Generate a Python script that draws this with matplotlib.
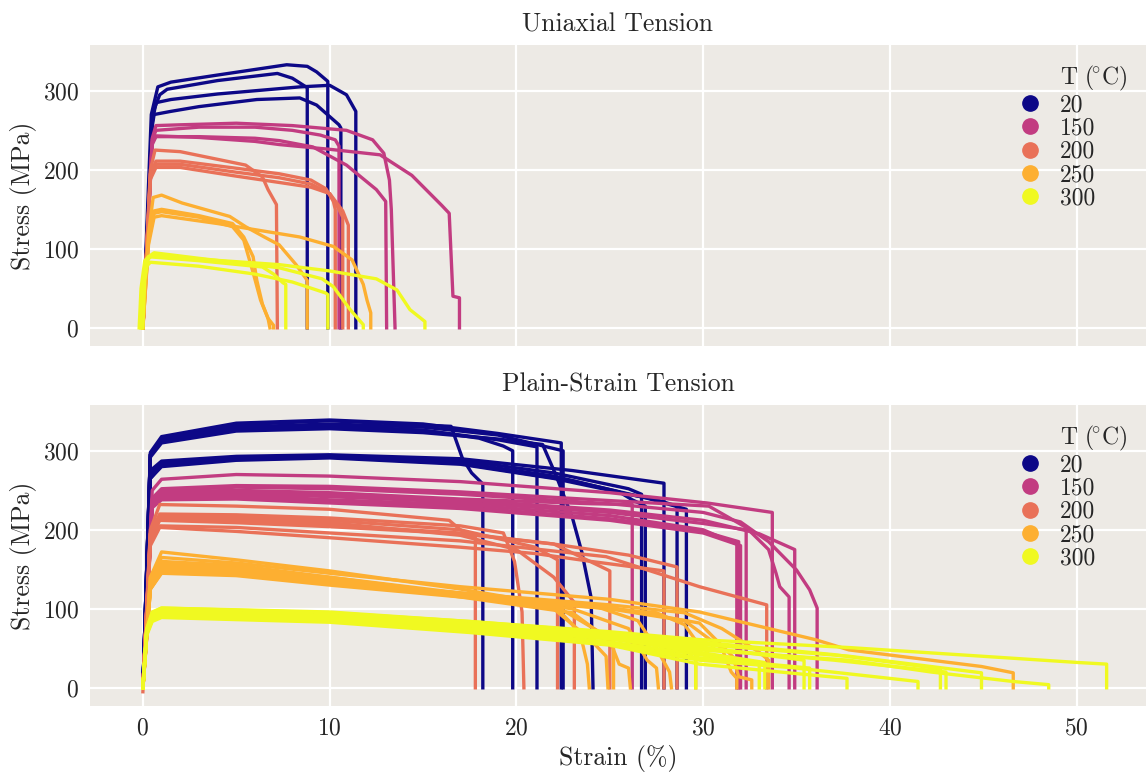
import matplotlib
matplotlib.use("Agg")
import matplotlib.pyplot as plt
from matplotlib.colors import Normalize
from matplotlib.lines import Line2D

temps = [20, 150, 200, 250, 300]

# ---- uniaxial tension curves, (strain %, stress MPa) ----
uni_20 = [
    [(0, 0), (0.45, 270), (0.8, 305), (1.5, 311), (4, 320), (7.7, 333), (8.8, 331), (9.3, 324), (9.9, 312), (9.9, 0)],
    [(0, 0), (0.5, 270), (0.9, 295), (1.3, 302), (4, 313), (7.2, 322), (8.0, 316), (8.8, 304), (8.8, 0)],
    [(0, 0), (0.5, 260), (0.7, 285), (1.5, 289), (4, 296), (8.4, 305), (10, 307), (10.9, 295), (11.4, 274), (11.4, 0)],
    [(0, 0), (0.5, 255), (0.6, 270), (1.5, 274), (3, 280), (6.1, 289), (8.4, 291), (9.3, 282), (10.5, 257), (10.6, 253), (10.6, 0)],
]
uni_150 = [
    [(0, 0), (0.5, 240), (0.7, 256), (2, 257), (5, 259), (8, 256), (10.9, 250), (12.3, 238), (12.9, 221), (13.2, 187), (13.3, 150), (13.5, 0)],
    [(0, 0), (0.5, 238), (0.7, 250), (3, 254), (6, 254), (8, 250), (9.5, 244), (10.3, 238), (10.5, 230), (10.5, 0)],
    [(0, 0), (0.5, 232), (0.7, 242), (3, 242), (6, 240), (7.3, 237), (9.1, 229), (10.9, 206), (12.5, 175), (13.0, 160), (13.05, 0)],
    [(0, 0), (0.5, 235), (0.7, 243), (3, 241), (6, 236), (7.3, 232), (10, 226), (12.7, 219), (14.4, 193), (16.0, 155), (16.4, 145), (16.6, 40), (16.95, 38), (16.95, 0)],
]
uni_200 = [
    [(0, 0), (0.4, 200), (0.65, 225), (2, 223), (5.5, 206), (6.4, 191), (6.7, 175), (7.15, 156), (7.2, 0)],
    [(0, 0), (0.4, 195), (0.7, 211), (2, 211), (5, 202), (7.3, 195), (9, 187), (9.8, 176), (10.2, 160), (10.3, 150), (10.3, 0)],
    [(0, 0), (0.4, 190), (0.7, 207), (2, 207), (5, 197), (7.3, 190), (9, 182), (10, 170), (10.5, 150), (10.7, 140), (10.7, 0)],
    [(0, 0), (0.4, 188), (0.7, 203), (2, 203), (5, 192), (7.3, 184), (9, 178), (10, 170), (10.7, 148), (11.0, 130), (11.0, 0)],
]
uni_250 = [
    [(0, 0), (0.3, 120), (0.55, 165), (1, 168), (2.1, 158), (4.65, 141), (5.5, 128), (6.5, 115), (7.3, 105), (8.2, 80), (8.8, 60), (8.8, 0)],
    [(0, 0), (0.3, 110), (0.6, 148), (1, 150), (3, 142), (4.8, 132), (5.4, 115), (5.9, 90), (6.1, 60), (6.4, 30), (6.7, 12), (6.8, 0)],
    [(0, 0), (0.3, 110), (0.6, 145), (1, 147), (3, 140), (4.8, 128), (5.4, 111), (5.9, 70), (6.3, 35), (6.7, 12), (7.0, 3), (7.0, 0)],
    [(0, 0), (0.3, 105), (0.6, 140), (1, 142), (4, 132), (8.4, 115), (10.2, 103), (11.2, 86), (11.8, 55), (12.0, 35), (12.2, 19), (12.2, 0)],
]
uni_300 = [
    [(-0.2, 0), (-0.1, 50), (0.1, 85), (0.3, 90), (3, 85), (6.4, 77), (7.0, 68), (7.5, 57), (7.65, 55), (7.65, 0)],
    [(-0.1, 0), (0.0, 50), (0.2, 78), (0.4, 83), (3, 78), (6, 68), (8, 58), (9.8, 44), (9.9, 42), (9.9, 0)],
    [(0, 0), (0.1, 60), (0.3, 90), (0.6, 95), (3, 88), (7.3, 76), (9.6, 62), (10.2, 52), (11.1, 23), (11.8, 4), (11.8, 0)],
    [(-0.1, 0), (0.0, 55), (0.2, 85), (0.5, 92), (3, 87), (7.3, 80), (10, 72), (12.5, 62), (13.6, 48), (14.3, 23), (15.1, 8), (15.1, 0)],
]

# ---- plain-strain tension curves ----
ps_20 = [
    [(0, 0), (0.4, 295), (1, 316), (5, 333), (10, 338), (16.5, 331), (17.1, 291), (17.6, 272), (18.2, 258), (18.2, 0)],
    [(0, 0), (0.4, 295), (1, 313), (5, 328), (10, 332), (15, 326), (18, 316), (19.3, 306), (19.8, 300), (19.8, 0)],
    [(0, 0), (0.4, 295), (1, 312), (5, 327), (10, 331), (15, 326), (19, 314), (21.1, 305), (21.1, 0)],
    [(0, 0), (0.4, 298), (1, 318), (5, 335), (10, 339), (15, 334), (19, 322), (22.4, 310), (22.4, 0)],
    [(0, 0), (0.4, 292), (1, 310), (5, 325), (10, 328), (15, 323), (19, 315), (21.4, 308), (22.1, 270), (23, 215), (23.5, 172), (24.0, 114), (24.1, 0)],
    [(0, 0), (0.4, 296), (1, 314), (5, 330), (10, 334), (15, 330), (19, 320), (22.5, 300), (22.5, 0)],
    [(0, 0), (0.4, 270), (1, 285), (5, 291), (10, 294), (17, 288), (22, 272), (26, 252), (26.7, 245), (26.7, 0)],
    [(0, 0), (0.4, 268), (1, 283), (5, 290), (10, 293), (17, 285), (22, 268), (25.5, 248), (26.2, 238), (26.9, 230), (26.9, 0)],
    [(0, 0), (0.4, 275), (1, 287), (5, 293), (10, 295), (17, 290), (23, 275), (27.9, 259), (27.9, 0)],
    [(0, 0), (0.4, 265), (1, 280), (5, 288), (10, 291), (17, 283), (22, 265), (26, 245), (27.5, 238), (28.6, 230), (28.6, 0)],
    [(0, 0), (0.4, 265), (1, 282), (5, 289), (10, 292), (17, 284), (23, 262), (27, 240), (29.1, 226), (29.1, 0)],
]
ps_150 = [
    [(0, 0), (0.5, 250), (1, 264), (5, 270), (10, 268), (17, 261), (25, 247), (30.2, 234), (33.7, 222), (33.7, 0)],
    [(0, 0), (0.5, 240), (1, 252), (5, 256), (10, 255), (17, 248), (25, 237), (30.3, 230), (32.3, 203), (33.5, 175), (33.9, 145), (34.1, 128), (34.6, 115), (34.6, 0)],
    [(0, 0), (0.5, 238), (1, 250), (5, 254), (10, 252), (17, 245), (25, 233), (30, 222), (32, 210), (33.5, 185), (35.0, 149), (35.7, 124), (36.1, 101), (36.1, 0)],
    [(0, 0), (0.5, 238), (1, 248), (5, 250), (10, 247), (17, 239), (24, 233), (26.2, 232), (26.2, 0)],
    [(0, 0), (0.5, 232), (1, 242), (5, 244), (10, 238), (17, 232), (25, 218), (30, 200), (31.8, 182), (31.8, 0)],
    [(0, 0), (0.5, 230), (1, 240), (5, 241), (10, 236), (17, 229), (25, 214), (30, 198), (31.9, 185), (31.9, 0)],
    [(0, 0), (0.5, 228), (1, 238), (5, 239), (10, 234), (17, 227), (25, 212), (30, 196), (32.0, 180), (32.0, 0)],
    [(0, 0), (0.5, 236), (1, 246), (5, 248), (10, 245), (17, 238), (25, 225), (30, 212), (33, 195), (34.9, 175), (34.9, 0)],
    [(0, 0), (0.5, 234), (1, 244), (5, 246), (10, 242), (17, 235), (25, 222), (30, 208), (32.3, 200), (32.3, 0)],
]
ps_200 = [
    [(0, 0), (0.4, 200), (0.9, 232), (5, 230), (10, 226), (16.4, 212), (17, 200), (17.8, 190), (17.8, 0)],
    [(0, -5), (0.4, 195), (0.9, 220), (5, 219), (10, 215), (17, 205), (19.3, 196), (19.9, 160), (20.3, 96), (20.4, 0)],
    [(0, 0), (0.4, 195), (0.9, 218), (5, 216), (10, 212), (17, 200), (21, 178), (22.2, 162), (22.2, 0)],
    [(0, 0), (0.4, 192), (0.9, 215), (5, 213), (10, 209), (17, 193), (20, 175), (22, 140), (23.1, 108), (23.1, 0)],
    [(0, 0), (0.4, 190), (0.9, 213), (5, 211), (10, 206), (17, 196), (22, 182), (25.0, 148), (25.0, 0)],
    [(0, 0), (0.4, 188), (0.9, 212), (5, 209), (10, 204), (17, 195), (22, 182), (26, 168), (28.6, 153), (28.6, 0)],
    [(0, 0), (0.4, 185), (0.9, 205), (5, 203), (10, 196), (17, 186), (24.8, 166), (29.8, 128), (33.4, 105), (33.4, 0)],
    [(0, 0), (0.4, 180), (0.9, 203), (5, 198), (10, 190), (17, 178), (21, 170), (24, 160), (27.9, 148), (27.9, 0)],
]
ps_250 = [
    [(0, 0), (0.4, 140), (1, 165), (5, 158), (10, 145), (17, 128), (25, 112), (29.8, 96), (36.0, 61), (37.8, 48), (44.9, 27), (46.6, 19), (46.6, 0)],
    [(0, 0), (0.4, 140), (1, 172), (5, 162), (10, 148), (17, 125), (22, 105), (23.0, 80), (23.5, 60), (23.8, 30), (23.9, 0)],
    [(0, 0), (0.4, 135), (1, 160), (5, 155), (10, 140), (17, 118), (22, 100), (24, 60), (24.8, 40), (24.9, 0)],
    [(0, 0), (0.4, 135), (1, 158), (5, 152), (10, 140), (17, 120), (22, 105), (24.5, 70), (25.2, 50), (25.2, 0)],
    [(0, 0), (0.4, 130), (1, 155), (5, 150), (10, 138), (17, 115), (23, 95), (25, 60), (25.5, 30), (26.0, 25), (26.1, 0)],
    [(0, 0), (0.4, 130), (1, 152), (5, 148), (10, 137), (17, 118), (23, 100), (26, 75), (27, 35), (27.5, 25), (27.6, 0)],
    [(0, 0), (0.4, 128), (1, 150), (5, 146), (10, 135), (17, 120), (24, 105), (26.5, 85), (27.5, 50), (28.2, 20), (28.3, 0)],
    [(0, 0), (0.4, 125), (1, 148), (5, 145), (10, 133), (17, 118), (25, 100), (27.5, 95), (29, 80), (29.6, 60), (29.6, 0)],
    [(0, 0), (0.4, 125), (1, 146), (5, 143), (10, 132), (17, 118), (25, 102), (29.8, 82), (31.6, 39), (31.9, 14), (32.6, 10), (32.6, 0)],
    [(0, 0), (0.4, 125), (1, 145), (5, 142), (10, 130), (17, 115), (25, 100), (29, 85), (31, 50), (31.5, 20), (31.8, 12), (31.8, 0)],
    [(0, 0), (0.4, 128), (1, 150), (5, 146), (10, 134), (17, 120), (25, 105), (29, 95), (31, 75), (33, 45), (33.5, 35), (33.5, 0)],
]
ps_300 = [
    [(0, 0), (0.2, 70), (0.5, 88), (1, 93), (10, 88), (17.5, 78), (25, 66), (29.6, 55), (29.6, 0)],
    [(0, 0), (0.2, 68), (0.5, 86), (1, 91), (10, 86), (17.5, 74), (25, 58), (29.8, 42), (33.0, 30), (33.0, 0)],
    [(0, 0), (0.2, 70), (0.5, 90), (1, 95), (10, 90), (17.5, 79), (25, 62), (29.8, 45), (33.3, 32), (33.3, 0)],
    [(0, 0), (0.2, 72), (0.5, 93), (1, 98), (10, 92), (17.5, 81), (25, 66), (29.8, 52), (35.4, 35), (35.4, 0)],
    [(0, 0), (0.2, 68), (0.5, 87), (1, 92), (10, 86), (17.5, 74), (25, 56), (29.8, 38), (35.7, 25), (35.7, 0)],
    [(0, 0), (0.2, 66), (0.5, 84), (1, 89), (10, 83), (17.5, 70), (25, 54), (29.8, 30), (35, 18), (37.7, 12), (37.7, 0)],
    [(0, 0), (0.2, 68), (0.5, 86), (1, 90), (10, 85), (17.5, 72), (25, 55), (29.8, 35), (35, 25), (41.5, 8), (41.5, 0)],
    [(0, 0), (0.2, 74), (0.5, 95), (1, 101), (10, 95), (17.5, 84), (25, 70), (29.8, 58), (37, 42), (42.7, 24), (42.7, 0)],
    [(0, 0), (0.2, 70), (0.5, 90), (1, 96), (10, 90), (17.5, 79), (25, 65), (29.8, 50), (37, 35), (43.0, 20), (43.0, 0)],
    [(0, 0), (0.2, 72), (0.5, 92), (1, 98), (10, 92), (17.5, 81), (25, 68), (29.8, 55), (37.8, 40), (44.9, 19), (44.9, 0)],
    [(0, 0), (0.2, 68), (0.5, 88), (1, 93), (10, 87), (17.5, 75), (25, 62), (29.8, 48), (37.8, 35), (42.2, 20), (46.6, 8), (48.5, 4), (48.5, 0)],
    [(0, 0), (0.2, 74), (0.5, 96), (1, 101), (10, 96), (17.5, 84), (25, 71), (29.8, 61), (37.8, 51), (50.1, 32), (51.6, 30), (51.6, 0)],
]

uniaxial = [uni_20, uni_150, uni_200, uni_250, uni_300]
plain_strain = [ps_20, ps_150, ps_200, ps_250, ps_300]

plt.rcParams.update({
    "font.family": ["cmr10", "DejaVu Serif"],
    "mathtext.fontset": "cm",
    "axes.formatter.use_mathtext": True,
    "axes.facecolor": "#EDEAE5",
    "axes.edgecolor": "none",
    "axes.grid": True,
    "axes.axisbelow": True,
    "grid.color": "white",
    "grid.linewidth": 1.6,
    "xtick.major.size": 0,
    "ytick.major.size": 0,
    "xtick.major.pad": 8,
    "ytick.major.pad": 8,
    "text.color": "#262626",
    "xtick.color": "#262626",
    "ytick.color": "#262626",
    "axes.labelcolor": "#262626",
})

cmap = plt.get_cmap("plasma")
norm = Normalize(20, 300)

fig, (ax1, ax2) = plt.subplots(2, 1, figsize=(11.47, 7.72), dpi=100, sharex=True, sharey=True)
fig.subplots_adjust(left=0.0785, right=0.999, top=0.9417, bottom=0.0855, hspace=0.196)

for ax, data, title in [(ax1, uniaxial, "Uniaxial Tension"), (ax2, plain_strain, "Plain-Strain Tension")]:
    for T, curves in zip(temps, data):
        for c in curves:
            xs = [p[0] for p in c]
            ys = [p[1] for p in c]
            ax.plot(xs, ys, color=cmap(norm(T)), lw=2.4, solid_joinstyle="round")
    ax.set_title(title, fontsize=18.5, pad=10)
    ax.set_ylabel("Stress (MPa)", fontsize=18.5)
    ax.tick_params(labelsize=17)
    handles = [Line2D([], [], ls="", marker="")]
    labels = [r"T ($\!^{\circ}$C)"]
    for T in temps:
        handles.append(Line2D([], [], ls="", marker="o", ms=11, color=cmap(norm(T))))
        labels.append(str(T))
    ax.legend(handles, labels, loc="upper right", frameon=False, fontsize=17,
              handletextpad=0.75, labelspacing=0.05, handlelength=1.0,
              borderaxespad=0.45, borderpad=0.35)

ax2.set_xlim(-2.83, 53.7)
ax2.set_ylim(-23, 358)
ax2.set_xticks([0, 10, 20, 30, 40, 50])
ax2.set_yticks([0, 100, 200, 300])
ax2.set_xlabel("Strain (%)", fontsize=18.5)

fig.savefig("out.png", dpi=100)
